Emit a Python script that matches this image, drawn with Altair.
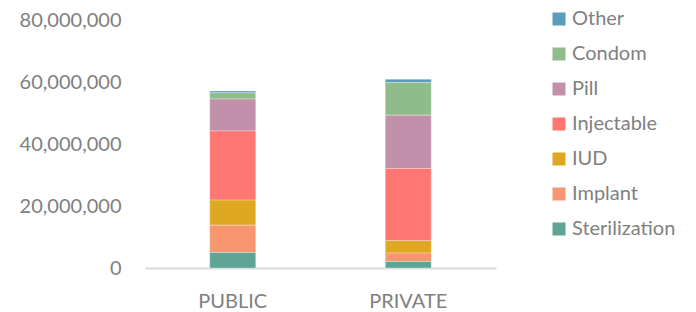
import altair as alt
import pandas as pd

sectors = ["PUBLIC", "PRIVATE"]
methods = ["Other", "Condom", "Pill", "Injectable", "IUD", "Implant", "Sterilization"]
colors = ["#5b9bbb", "#8fbc8a", "#c191ab", "#ff7672", "#dfa823", "#f7966f", "#5fa596"]
public_vals = [600000, 2000000, 10300000, 22300000, 8100000, 8800000, 5000000]
private_vals = [1100000, 10500000, 17200000, 23300000, 4000000, 2700000, 2100000]

rows = []
for i, m in enumerate(methods):
    rows.append({"sector": "PUBLIC", "method": m, "value": public_vals[i], "ord": len(methods) - i})
    rows.append({"sector": "PRIVATE", "method": m, "value": private_vals[i], "ord": len(methods) - i})
df = pd.DataFrame(rows)

FONT = "Lato"

chart = alt.Chart(df).mark_bar(size=46, stroke="white", strokeWidth=0.6, strokeOpacity=0.5).encode(
    x=alt.X("sector:N", sort=sectors, title=None,
            axis=alt.Axis(labelAngle=0, labelFontSize=20, labelColor="#808080", labelFont=FONT,
                          ticks=False, domainColor="#d9d9d9", domainWidth=2, labelPadding=23)),
    y=alt.Y("value:Q", stack="zero", title=None,
            scale=alt.Scale(domain=[0, 80000000]),
            axis=alt.Axis(values=[0, 20000000, 40000000, 60000000, 80000000], format=",.0f",
                          labelFontSize=20, labelColor="#808080", labelFont=FONT,
                          ticks=False, domain=False, grid=False, labelPadding=24)),
    color=alt.Color("method:N", scale=alt.Scale(domain=methods, range=colors),
                    legend=alt.Legend(title=None, orient="none", legendX=404, legendY=-11,
                                      symbolType="square", symbolSize=169, symbolStrokeWidth=0,
                                      labelFontSize=20, labelColor="#808080", labelFont=FONT,
                                      labelOffset=3, rowPadding=15)),
    order=alt.Order("ord:Q", sort="ascending"),
).properties(
    width=351, height=248,
    autosize=alt.AutoSizeParams(type="none"),
    padding={"left": 137, "top": 12, "right": 192, "bottom": 44},
).configure_view(stroke=None).configure_scale(bandPaddingInner=0.5)

chart.save("out.html", embed_options={"renderer": "svg", "actions": False})
